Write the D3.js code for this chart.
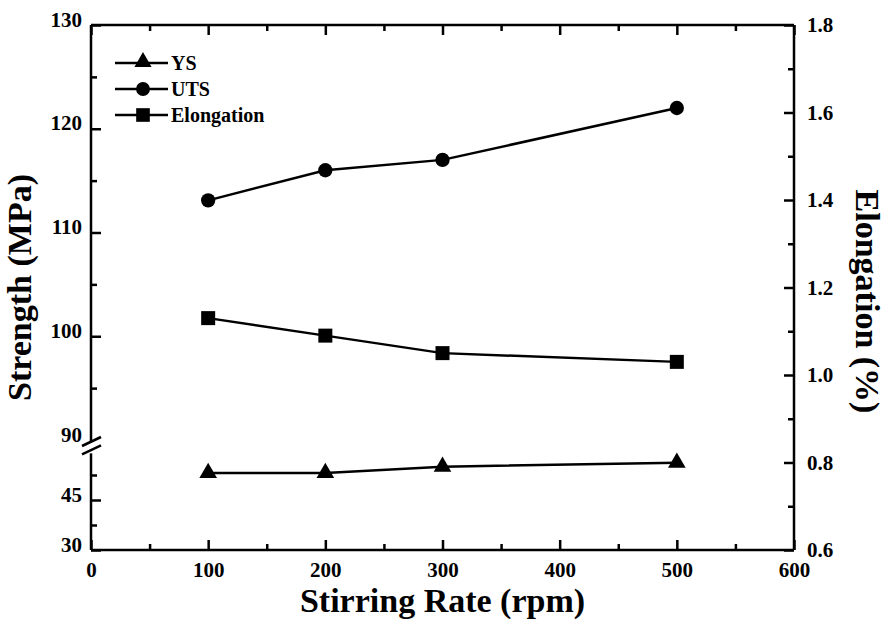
<!DOCTYPE html>
<html>
<head>
<meta charset="utf-8">
<script src="https://cdn.jsdelivr.net/npm/d3@7"></script>
<style>
  html, body { margin: 0; padding: 0; background: #fff; }
  svg { display: block; }
  text { font-family: "Liberation Serif", "Times New Roman", serif; font-weight: bold; fill: #000; }
</style>
</head>
<body>
<svg id="chart" width="889" height="627"></svg>
<script>
// ---- data ----
const stirringRate = [100, 200, 300, 500];
const ysValues = [53.1, 53.1, 55.0, 56.2];
const utsValues = [113.1, 116.0, 117.0, 122.0];
const elongationValues = [1.13, 1.09, 1.05, 1.03];
const seriesNames = ["YS", "UTS", "Elongation"];
const xTicks = [0, 100, 200, 300, 400, 500, 600];
const xMinorTicks = [50, 150, 250, 350, 450, 550];
const yUpperTicks = [90, 100, 110, 120, 130];
const yUpperMinor = [95, 105, 115, 125];
const yLowerTicks = [30, 45];
const yLowerMinor = [37.5, 52.5];
const yRightTicks = [0.6, 0.8, 1.0, 1.2, 1.4, 1.6, 1.8];
const yRightMinor = [0.7, 0.9, 1.1, 1.3, 1.5, 1.7];

// ---- layout ----
const L = 91, R = 794, T = 25, B = 550;
const svg = d3.select("#chart");

const x = d3.scaleLinear().domain([0, 600]).range([L, R]);
const yUp = d3.scaleLinear().domain([90, 130]).range([440, T]);
const yLow = d3.scaleLinear().domain([30, 60]).range([B, 450]);
const yR = d3.scaleLinear().domain([0.6, 1.8]).range([B, T]);

const SW = 2.5;

function styleAxis(g) {
  g.select(".domain").remove();
  g.attr("font-family", null);
  g.selectAll(".tick line").attr("stroke", "#000").attr("stroke-width", SW);
  g.selectAll(".tick text").attr("font-size", 21).attr("font-weight", "bold").attr("fill", "#000");
}

// bottom axis
svg.append("g").attr("transform", `translate(0,${B})`)
  .call(d3.axisBottom(x).tickValues(xTicks).tickSize(-10).tickPadding(12).tickFormat(d3.format("d")))
  .call(styleAxis);
svg.append("g").attr("transform", `translate(0,${B})`)
  .call(d3.axisBottom(x).tickValues(xMinorTicks).tickSize(-6).tickFormat(""))
  .call(styleAxis);
// top axis (mirror ticks)
svg.append("g").attr("transform", `translate(0,${T})`)
  .call(d3.axisTop(x).tickValues(xTicks).tickSize(-10).tickFormat(""))
  .call(styleAxis);
svg.append("g").attr("transform", `translate(0,${T})`)
  .call(d3.axisTop(x).tickValues(xMinorTicks).tickSize(-6).tickFormat(""))
  .call(styleAxis);

// left upper axis
const gUp = svg.append("g").attr("transform", `translate(${L},0)`)
  .call(d3.axisLeft(yUp).tickValues(yUpperTicks).tickSize(-10).tickPadding(9).tickFormat(d3.format("d")))
  .call(styleAxis);
gUp.selectAll(".tick text").attr("dy", "0.05em");
gUp.selectAll(".tick").filter(d => d === 90).select("line").remove();
svg.append("g").attr("transform", `translate(${L},0)`)
  .call(d3.axisLeft(yUp).tickValues(yUpperMinor).tickSize(-6).tickFormat(""))
  .call(styleAxis);
// left lower axis
const gLow = svg.append("g").attr("transform", `translate(${L},0)`)
  .call(d3.axisLeft(yLow).tickValues(yLowerTicks).tickSize(-10).tickPadding(9).tickFormat(d3.format("d")))
  .call(styleAxis);
gLow.selectAll(".tick text").attr("dy", "0.05em");
svg.append("g").attr("transform", `translate(${L},0)`)
  .call(d3.axisLeft(yLow).tickValues(yLowerMinor).tickSize(-6).tickFormat(""))
  .call(styleAxis);

// right axis
svg.append("g").attr("transform", `translate(${R},0)`)
  .call(d3.axisRight(yR).tickValues(yRightTicks).tickSize(-10).tickPadding(13).tickFormat(d3.format(".1f")))
  .call(styleAxis);
svg.append("g").attr("transform", `translate(${R},0)`)
  .call(d3.axisRight(yR).tickValues(yRightMinor).tickSize(-6).tickFormat(""))
  .call(styleAxis);

// frame lines
const frame = svg.append("g").attr("stroke", "#000").attr("stroke-width", SW).attr("fill", "none");
frame.append("line").attr("x1", L).attr("x2", R).attr("y1", B).attr("y2", B);
frame.append("line").attr("x1", L).attr("x2", R).attr("y1", T).attr("y2", T);
frame.append("line").attr("x1", R).attr("x2", R).attr("y1", T).attr("y2", B);
frame.append("line").attr("x1", L).attr("x2", L).attr("y1", T).attr("y2", yUp(90) + 1);
frame.append("line").attr("x1", L).attr("x2", L).attr("y1", yLow(59)).attr("y2", B);
// break marks
const bTop = yUp(90), bBot = yLow(59);
frame.append("line").attr("x1", L - 9).attr("y1", bTop + 6).attr("x2", L + 10).attr("y2", bTop - 3);
frame.append("line").attr("x1", L - 9).attr("y1", bBot + 1).attr("x2", L + 10).attr("y2", bBot - 8);

// ---- series ----
const lineYS = d3.line().x((d, i) => x(stirringRate[i])).y(d => yLow(d));
const lineUTS = d3.line().x((d, i) => x(stirringRate[i])).y(d => yUp(d));
const lineEl = d3.line().x((d, i) => x(stirringRate[i])).y(d => yR(d));

const data = [
  { vals: ysValues, line: lineYS, y: yLow, sym: d3.symbolTriangle, size: 135 },
  { vals: utsValues, line: lineUTS, y: yUp, sym: d3.symbolCircle, size: 160 },
  { vals: elongationValues, line: lineEl, y: yR, sym: d3.symbolSquare, size: 196 }
];

data.forEach(s => {
  svg.append("path").datum(s.vals).attr("d", s.line)
    .attr("fill", "none").attr("stroke", "#000").attr("stroke-width", SW);
  svg.append("g").selectAll("path").data(s.vals).join("path")
    .attr("d", d3.symbol(s.sym, s.size))
    .attr("transform", (d, i) => `translate(${x(stirringRate[i])},${s.y(d)})`)
    .attr("fill", "#000");
});

// ---- legend ----
const legend = svg.append("g");
const legY = [63, 89, 115];
seriesNames.forEach((name, i) => {
  const g = legend.append("g").attr("transform", `translate(0,${legY[i]})`);
  g.append("line").attr("x1", 115).attr("x2", 168).attr("y1", 0).attr("y2", 0)
    .attr("stroke", "#000").attr("stroke-width", SW);
  g.append("path").attr("d", d3.symbol(data[i].sym, data[i].size * 0.95))
    .attr("transform", `translate(143,${i === 0 ? -1 : 0})`).attr("fill", "#000");
  g.append("text").attr("x", 171).attr("y", 7).attr("font-size", 20).text(name);
});

// ---- axis titles ----
svg.append("text").attr("x", (L + R) / 2).attr("y", 612)
  .attr("text-anchor", "middle").attr("font-size", 34).text("Stirring Rate (rpm)");
svg.append("text").attr("transform", `translate(31,${(T + B) / 2}) rotate(-90)`)
  .attr("text-anchor", "middle").attr("font-size", 34).text("Strength (MPa)");
svg.append("text").attr("transform", `translate(856,${(T + B) / 2 + 14}) rotate(90)`)
  .attr("text-anchor", "middle").attr("font-size", 34).text("Elongation (%)");
</script>
</body>
</html>
